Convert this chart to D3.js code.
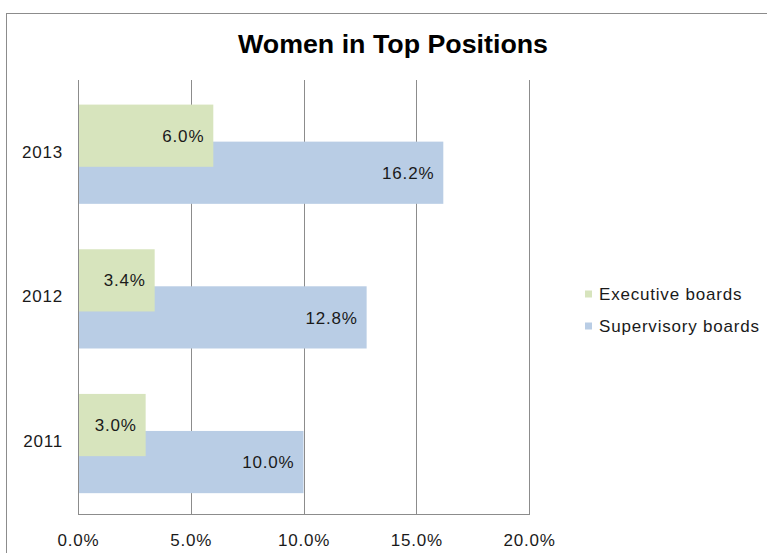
<!DOCTYPE html>
<html>
<head>
<meta charset="utf-8">
<script src="https://cdn.jsdelivr.net/npm/d3@7"></script>
<style>
  body { margin: 0; background: #fff; }
  svg { display: block; font-family: "Liberation Sans", Arial, sans-serif; }
</style>
</head>
<body>
<svg width="767" height="553"></svg>
<script>
// data
var years = ["2013", "2012", "2011"];
var executive = [6.0, 3.4, 3.0];
var supervisory = [16.2, 12.8, 10.0];
var seriesNames = ["Executive boards", "Supervisory boards"];
var xTicks = [0, 5, 10, 15, 20];

var colors = ["#d7e4bd", "#b9cde5"];
var fontSize = 17,
    spacing = 0.8;

var svg = d3.select("svg");

// outer chart border
svg.append("rect")
    .attr("x", 6.5)
    .attr("y", 13.5)
    .attr("width", 800)
    .attr("height", 600)
    .attr("fill", "#fff")
    .attr("stroke", "#8c8c8c")
    .attr("stroke-width", 1);

svg.append("text")
    .attr("x", 238)
    .attr("y", 53)
    .attr("font-size", 25)
    .attr("font-weight", "bold")
    .attr("fill", "#000")
    .attr("textLength", 310)
    .attr("lengthAdjust", "spacingAndGlyphs")
    .text("Women in Top Positions");

var plot = { left: 78, right: 529, top: 80, bottom: 514 };

var x = d3.scaleLinear()
    .domain([0, 20])
    .range([plot.left, plot.right]);

var y = d3.scaleBand()
    .domain(years)
    .range([plot.top, plot.bottom]);

var bw = y.bandwidth();
var barH = bw * 0.43;
var offs = [bw * 0.17, bw * 0.17 + bw * 0.256];

// gridlines
svg.append("g")
    .selectAll("line")
    .data(xTicks)
    .join("line")
    .attr("x1", d => Math.round(x(d)) + 0.5)
    .attr("x2", d => Math.round(x(d)) + 0.5)
    .attr("y1", plot.top)
    .attr("y2", plot.bottom)
    .attr("stroke", "#8c8c8c");

// x axis
var xAxis = d3.axisBottom(x)
    .tickValues(xTicks)
    .tickSize(0)
    .tickPadding(20)
    .tickFormat(d => d.toFixed(1) + "%");

var gX = svg.append("g")
    .attr("transform", `translate(0,${plot.bottom})`)
    .call(xAxis);
gX.select(".domain").remove();
gX.selectAll("text")
    .attr("font-family", "Liberation Sans, Arial, sans-serif")
    .attr("font-size", fontSize)
    .attr("letter-spacing", spacing)
    .attr("fill", "#1a1a1a");

svg.append("line")
    .attr("x1", plot.left)
    .attr("x2", plot.right + 1)
    .attr("y1", plot.bottom + 0.5)
    .attr("y2", plot.bottom + 0.5)
    .attr("stroke", "#8c8c8c");

// y axis labels
var yAxis = d3.axisLeft(y)
    .tickSize(0)
    .tickPadding(15);
var gY = svg.append("g")
    .attr("transform", `translate(${plot.left},0)`)
    .call(yAxis);
gY.select(".domain").remove();
gY.selectAll("text")
    .attr("font-family", "Liberation Sans, Arial, sans-serif")
    .attr("font-size", fontSize)
    .attr("letter-spacing", spacing)
    .attr("fill", "#1a1a1a");

// bars: supervisory first, executive drawn on top
var rows = years.map((yr, i) => ({ year: yr, vals: [executive[i], supervisory[i]] }));

[1, 0].forEach(s => {
    svg.append("g")
        .selectAll("rect")
        .data(rows)
        .join("rect")
        .attr("x", plot.left + 1)
        .attr("y", d => y(d.year) + offs[s])
        .attr("width", d => x(d.vals[s]) - plot.left - 1)
        .attr("height", barH)
        .attr("fill", colors[s]);

    svg.append("g")
        .selectAll("text")
        .data(rows)
        .join("text")
        .attr("x", d => x(d.vals[s]) - 9)
        .attr("y", d => y(d.year) + offs[s] + barH / 2)
        .attr("dy", "0.36em")
        .attr("text-anchor", "end")
        .attr("font-size", fontSize)
        .attr("letter-spacing", spacing)
        .attr("fill", "#1a1a1a")
        .text(d => d.vals[s].toFixed(1) + "%");
});

// legend
var legend = svg.append("g")
    .selectAll("g")
    .data(seriesNames)
    .join("g")
    .attr("transform", (d, i) => `translate(585,${294 + i * 32})`);

legend.append("rect")
    .attr("x", 0)
    .attr("y", -3.5)
    .attr("width", 7)
    .attr("height", 7)
    .attr("fill", (d, i) => colors[i]);

legend.append("text")
    .attr("x", 14)
    .attr("dy", "0.36em")
    .attr("font-size", fontSize)
    .attr("letter-spacing", spacing)
    .attr("fill", "#1a1a1a")
    .text(d => d);
</script>
</body>
</html>
